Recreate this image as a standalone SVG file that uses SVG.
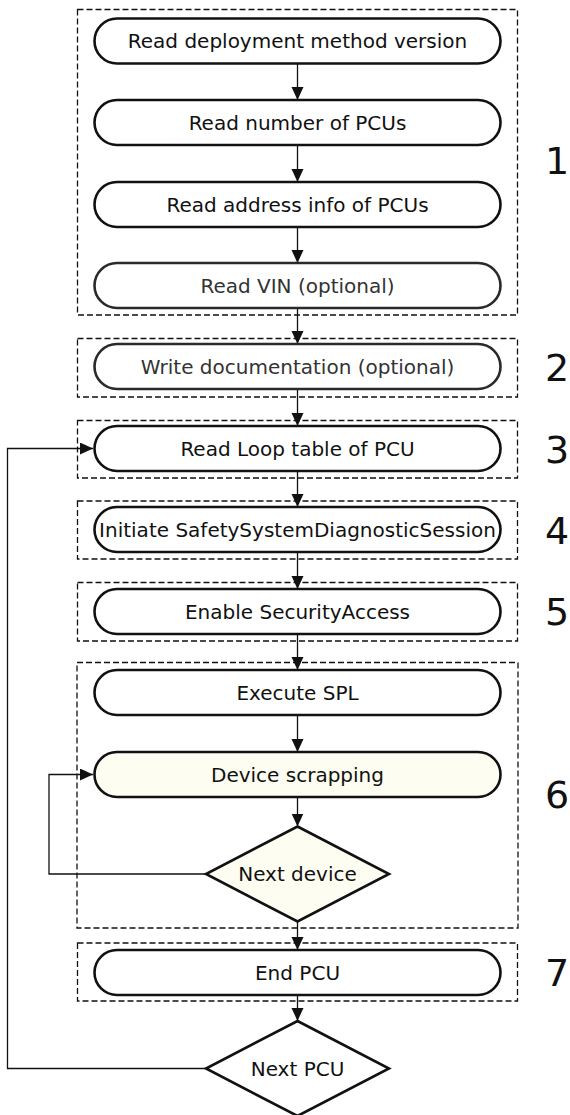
<svg xmlns="http://www.w3.org/2000/svg" width="570" height="1115" viewBox="0 0 570 1115">
<style>
.frame{fill:none;stroke:#111;stroke-width:1.3;stroke-dasharray:6 3}
.pill{fill:#fff;stroke:#111;stroke-width:2.6}
.pill.soft{stroke:#2a2a2a}
.dia{fill:#fff;stroke:#111;stroke-width:2.6}
.cream{fill:#fdfdf2}
.lbl{font-family:"DejaVu Sans",Verdana,sans-serif;font-size:20px;fill:#111;text-anchor:middle}
.lbl.gray{fill:#333}
.num{font-family:"DejaVu Sans",Verdana,sans-serif;font-size:38px;fill:#111;text-anchor:middle}
.conn{fill:none;stroke:#111;stroke-width:1.3}
</style>
<defs>
<marker id="arr" markerUnits="userSpaceOnUse" markerWidth="14" markerHeight="13" refX="13" refY="6" orient="auto">
<path d="M0,0 L13,6 L0,12 z" fill="#111"/>
</marker>
</defs>
<g id="frames">
<rect class="frame" x="77.5" y="9.5" width="440" height="305.5"/>
<rect class="frame" x="77.5" y="338.5" width="440" height="58.5"/>
<rect class="frame" x="77.5" y="420.5" width="440" height="57.5"/>
<rect class="frame" x="77.5" y="501" width="440" height="58"/>
<rect class="frame" x="77.5" y="582.5" width="440" height="58.5"/>
<rect class="frame" x="77" y="662.5" width="441" height="265.5"/>
<rect class="frame" x="77.5" y="943" width="440" height="58"/>
</g>
<g id="numbers">
<text class="num" x="557" y="174">1</text>
<text class="num" x="557" y="381">2</text>
<text class="num" x="557" y="463">3</text>
<text class="num" x="557" y="544">4</text>
<text class="num" x="557" y="625">5</text>
<text class="num" x="557" y="808">6</text>
<text class="num" x="557" y="986">7</text>
</g>
<g id="connectors">
<line class="conn" x1="297.5" y1="63" x2="297.5" y2="100" marker-end="url(#arr)"/>
<line class="conn" x1="297.5" y1="145" x2="297.5" y2="182" marker-end="url(#arr)"/>
<line class="conn" x1="297.5" y1="227" x2="297.5" y2="263" marker-end="url(#arr)"/>
<line class="conn" x1="297.5" y1="308" x2="297.5" y2="344" marker-end="url(#arr)"/>
<line class="conn" x1="297.5" y1="389" x2="297.5" y2="426" marker-end="url(#arr)"/>
<line class="conn" x1="297.5" y1="471" x2="297.5" y2="507" marker-end="url(#arr)"/>
<line class="conn" x1="297.5" y1="552" x2="297.5" y2="589" marker-end="url(#arr)"/>
<line class="conn" x1="297.5" y1="634" x2="297.5" y2="670" marker-end="url(#arr)"/>
<line class="conn" x1="297.5" y1="715" x2="297.5" y2="752" marker-end="url(#arr)"/>
<line class="conn" x1="297.5" y1="797" x2="297.5" y2="826.5" marker-end="url(#arr)"/>
<line class="conn" x1="297.5" y1="921.5" x2="297.5" y2="950" marker-end="url(#arr)"/>
<line class="conn" x1="297.5" y1="995" x2="297.5" y2="1021" marker-end="url(#arr)"/>
<path class="conn" d="M206,874 H49 V774.5 H93" marker-end="url(#arr)"/>
<path class="conn" d="M206,1068.5 H7.5 V448.5 H93" marker-end="url(#arr)"/>
</g>
<g id="n1"><rect class="pill" x="94.5" y="18.5" width="406" height="45" rx="22.5"/><text class="lbl" x="297.5" y="48">Read deployment method version</text></g>
<g id="n2"><rect class="pill" x="94.5" y="100" width="406" height="45" rx="22.5"/><text class="lbl" x="297.5" y="129.5">Read number of PCUs</text></g>
<g id="n3"><rect class="pill" x="94.5" y="182" width="406" height="45" rx="22.5"/><text class="lbl" x="297.5" y="211.5">Read address info of PCUs</text></g>
<g id="n4"><rect class="pill soft" x="94.5" y="263" width="406" height="45" rx="22.5"/><text class="lbl gray" x="297.5" y="292.5">Read VIN (optional)</text></g>
<g id="n5"><rect class="pill soft" x="94.5" y="344" width="406" height="45" rx="22.5"/><text class="lbl gray" x="297.5" y="373.5">Write documentation (optional)</text></g>
<g id="n6"><rect class="pill" x="94.5" y="426" width="406" height="45" rx="22.5"/><text class="lbl" x="297.5" y="455.5">Read Loop table of PCU</text></g>
<g id="n7"><rect class="pill" x="94.5" y="507" width="406" height="45" rx="22.5"/><text class="lbl" x="297.5" y="536.5">Initiate SafetySystemDiagnosticSession</text></g>
<g id="n8"><rect class="pill" x="94.5" y="589" width="406" height="45" rx="22.5"/><text class="lbl" x="297.5" y="618.5">Enable SecurityAccess</text></g>
<g id="n9"><rect class="pill" x="94.5" y="670" width="406" height="45" rx="22.5"/><text class="lbl" x="297.5" y="699.5">Execute SPL</text></g>
<g id="n10"><rect class="pill cream" x="94.5" y="752" width="406" height="45" rx="22.5"/><text class="lbl" x="297.5" y="781.5">Device scrapping</text></g>
<g id="n11"><polygon class="dia cream" points="297.5,826.5 389,874 297.5,921.5 206,874"/><text class="lbl" x="297.5" y="881">Next device</text></g>
<g id="n12"><rect class="pill" x="94.5" y="950" width="406" height="45" rx="22.5"/><text class="lbl" x="297.5" y="979.5">End PCU</text></g>
<g id="n13"><polygon class="dia" points="297.5,1021 389,1068.5 297.5,1116 206,1068.5"/><text class="lbl" x="297.5" y="1075.5">Next PCU</text></g>
</svg>
